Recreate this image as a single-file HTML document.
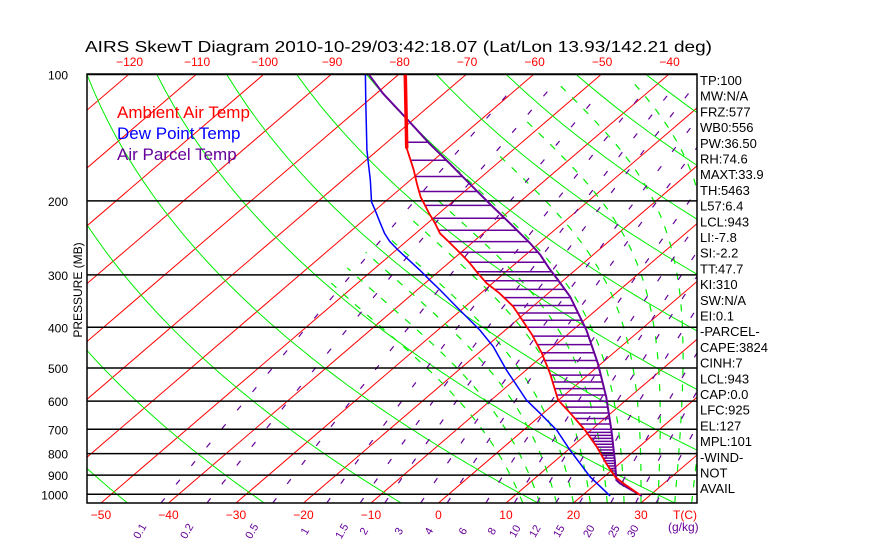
<!DOCTYPE html>
<html><head><meta charset="utf-8">
<style>
html,body{margin:0;padding:0;background:#fff;}
svg{display:block;font-family:"Liberation Sans",sans-serif;}
</style></head>
<body>
<svg id="chart" width="870" height="560" xmlns="http://www.w3.org/2000/svg">
<rect x="0" y="0" width="870" height="560" fill="#fff"/>
<defs><clipPath id="pc"><rect x="87" y="74" width="610" height="429"/></clipPath></defs>
<text x="85" y="52" font-size="16" textLength="627" lengthAdjust="spacingAndGlyphs">AIRS SkewT Diagram 2010-10-29/03:42:18.07 (Lat/Lon 13.93/142.21 deg)</text>
<g id="grid" clip-path="url(#pc)"></g>
<g id="series" clip-path="url(#pc)"></g>
<g id="labels"></g>
<text x="117" y="118" font-size="17" fill="#ff0000">Ambient Air Temp</text>
<text x="117" y="139" font-size="17" fill="#0000ff">Dew Point Temp</text>
<text x="117" y="160" font-size="17" fill="#660099">Air Parcel Temp</text>
<text transform="translate(82,290) rotate(-90)" text-anchor="middle" font-size="12">PRESSURE (MB)</text>
<rect x="87" y="74" width="610" height="429" fill="none" stroke="#000" stroke-width="1.5"/>
</svg>
<script>
// ---- data ----
const pressureTicks = [100,200,300,400,500,600,700,800,900,1000];
const topTempTicks = [-120,-110,-100,-90,-80,-70,-60,-50,-40];
const bottomTempTicks = [-50,-40,-30,-20,-10,0,10,20,30];
const mixingRatios = [0.1,0.2,0.5,1,1.5,2,3,4,6,8,10,12,15,20,25,30];
const mixingLabelX = [143,190,255,308,345,367,402,432,466,495,518,538,562,592,617,636];
const envP = [100,150,160,169,182,196,203,214,226,239,250,264,279,298,314,332,357,399,417,461,515,596,641,703,770,844,908,942,1004];
const envT = [-79,-66,-63.4,-61.2,-58.4,-55.5,-53.9,-51.5,-48.9,-46.4,-43.7,-40.5,-37.3,-33.8,-30.9,-27.2,-22.9,-17.4,-15.2,-10.6,-5.9,-0.1,4.0,9.1,13.7,18.0,21.6,24.0,28.5];
const dewP = [100,117,128,151,160,178,192,201,210,226,239,250,262,277,292,309,326,364,406,445,506,596,641,703,784,908,1009];
const dewT = [-84.9,-79.9,-77.0,-71.7,-69.7,-66.0,-63.5,-62.0,-60.1,-57.0,-54.6,-52.4,-49.7,-46.3,-43.1,-39.8,-36.6,-30.2,-23.8,-18.9,-12.9,-4.8,-0.5,4.9,10.3,17.9,24.2];
const parP = [100,111,128,146,163,182,203,226,252,269,290,306,338,406,488,586,703,829,925,942,1009];
const parT = [-84.4,-79.0,-70.9,-63.5,-57.0,-50.6,-44.2,-37.8,-31.4,-27.8,-24.1,-21.3,-16.2,-8.0,-0.5,6.5,13.0,18.7,22.4,23.5,28.9];
const indexLabels = ["TP:100","MW:N/A","FRZ:577","WB0:556","PW:36.50","RH:74.6","MAXT:33.9","TH:5463","L57:6.4","LCL:943","LI:-7.8","SI:-2.2","TT:47.7","KI:310","SW:N/A","EI:0.1","-PARCEL-","CAPE:3824","CINH:7","LCL:943","CAP:0.0","LFC:925","EL:127","MPL:101","-WIND-","NOT","AVAIL"];

// ---- axes ----
const NS="http://www.w3.org/2000/svg";
function yP(p){return 494.3+182.3*Math.log(p/1000);}
function xT(T,p){return 438.5+6.75*T+1.167*(503-yP(p));}
const PBOT=1049, PTOP=99.5;
function mk(tag,attrs,parent){const e=document.createElementNS(NS,tag);for(const k in attrs)e.setAttribute(k,attrs[k]);parent.appendChild(e);return e;}
const grid=document.getElementById('grid'), series=document.getElementById('series'), labels=document.getElementById('labels');
function polyPts(arr){return arr.map(a=>a[0].toFixed(1)+','+a[1].toFixed(1)).join(' ');}

for(let T=-170;T<=60;T+=10){
  const l=mk('line',{x1:xT(T,PBOT),y1:yP(PBOT),x2:xT(T,PTOP),y2:yP(PTOP),stroke:'#ff0000','stroke-width':1},grid);
  
  
}
for(let th=164;th<=620;th+=20){
  const pts=[];
  for(let p=PBOT;p>=PTOP;p-=10){const T=th*Math.pow(p/1000,0.286)-273.15;pts.push([xT(T,p),yP(p)]);}
  pts.push([xT(th*Math.pow(PTOP/1000,0.286)-273.15,PTOP),yP(PTOP)]);
  const l=mk('polyline',{points:polyPts(pts),fill:'none',stroke:'#00ee00','stroke-width':1},grid);
  
  
}
function es(T){return 6.112*Math.exp(17.67*T/(T+243.5));}
for(let T0=12.5;T0<=40;T0+=2.5){
  let T=T0+273.15, p=PBOT; const pts=[[xT(T0,p),yP(p)]];
  let n=0;
  while(p>PTOP){
    const Tc=T-273.15, e=es(Tc), rs=0.622*e/(p-e);
    const dTdp=(287*T+2.5e6*rs)/(1004+2.5e6*2.5e6*rs*0.622/(287*T*T))/p;
    const dp=-2; T+=dTdp*dp; p+=dp; n++;
    if(T-273.15<-55)break;
    if(n%4===0)pts.push([xT(T-273.15,p),yP(p)]);
  }
  const l=mk('polyline',{points:polyPts(pts),fill:'none',stroke:'#00ee00','stroke-width':1.2,'stroke-dasharray':'7 9'},grid);
  
  
}
function tdFromE(e){const a=Math.log(e/6.112);return 243.5*a/(17.67-a);}
mixingRatios.forEach(w=>{
  const pts=[];
  for(let p=PBOT;p>=PTOP;p-=10){const e=w*p/(622+w);pts.push([xT(tdFromE(e),p),yP(p)]);}
  const l=mk('polyline',{points:polyPts(pts),fill:'none',stroke:'#660099','stroke-width':1.2,'stroke-dasharray':'6 18'},grid);
  
  
});
pressureTicks.forEach(p=>{
  const l=mk('line',{x1:87,x2:697,y1:yP(p),y2:yP(p),stroke:'#000','stroke-width':1.5},grid);
  
  
  const t=mk('text',{x:68,y:yP(p)+5,'text-anchor':'end','font-size':12},labels);
  t.textContent=p;
  
  
});
function xAt(P,Tv,p){
  for(let i=0;i<P.length-1;i++){
    if(p>=P[i]&&p<=P[i+1]){const f=(yP(p)-yP(P[i]))/(yP(P[i+1])-yP(P[i]));return xT(Tv[i],P[i])+f*(xT(Tv[i+1],P[i+1])-xT(Tv[i],P[i]));}
  }
  return null;
}
for(let p=145;p<=942;p+=(p<400?15:(p<700?20:12))){
  const xe=xAt(envP,envT,p), xp=xAt(parP,parT,p);
  if(xe!==null&&xp!==null&&xp>xe){
    const l=mk('line',{x1:xe,x2:xp,y1:yP(p),y2:yP(p),stroke:'#660099','stroke-width':1.5},series);
    
    
  }
}
function profile(P,Tv,color,name,w){
  const pts=P.map((p,i)=>[xT(Tv[i],p),yP(p)]);
  const l=mk('polyline',{points:polyPts(pts),fill:'none',stroke:color,'stroke-width':w},series);
  
  
}
profile(parP,parT,'#660099','parcel-temp-line',2);
profile(dewP,dewT,'#0000ff','dew-point-line',1.5);
profile(envP,envT,'#ff0000','ambient-temp-line',1.8);
const th=mk('line',{x1:xT(envT[0],envP[0]),y1:yP(envP[0]),x2:xT(envT[1],envP[1]),y2:yP(envP[1]),stroke:'#ff0000','stroke-width':3.5},series);



topTempTicks.forEach(T=>{
  const t=mk('text',{x:xT(T,PTOP),y:66,'text-anchor':'middle','font-size':12,fill:'#ff0000'},labels);
  t.textContent=(T<0?'\u2212':'')+Math.abs(T);
  
  
});
bottomTempTicks.forEach(T=>{
  const t=mk('text',{x:xT(T,PBOT),y:519,'text-anchor':'middle','font-size':12,fill:'#ff0000'},labels);
  t.textContent=(T<0?'\u2212':'')+Math.abs(T);
  
  
});
const tc=mk('text',{x:685,y:519,'text-anchor':'middle','font-size':12,fill:'#ff0000'},labels);
tc.textContent='T(C)';


mixingRatios.forEach((w,i)=>{
  const t=mk('text',{transform:'translate('+mixingLabelX[i]+',533) rotate(-60)','text-anchor':'middle','font-size':11,fill:'#660099'},labels);
  t.textContent=w;
  
  
});
const gk=mk('text',{x:668,y:531,'font-size':12,fill:'#660099'},labels);
gk.textContent='(g/kg)';


indexLabels.forEach((s,i)=>{
  const t=mk('text',{x:700,y:85+i*15.7,'font-size':13},labels);
  t.textContent=s;
  
  
});
</script>
</body></html>
